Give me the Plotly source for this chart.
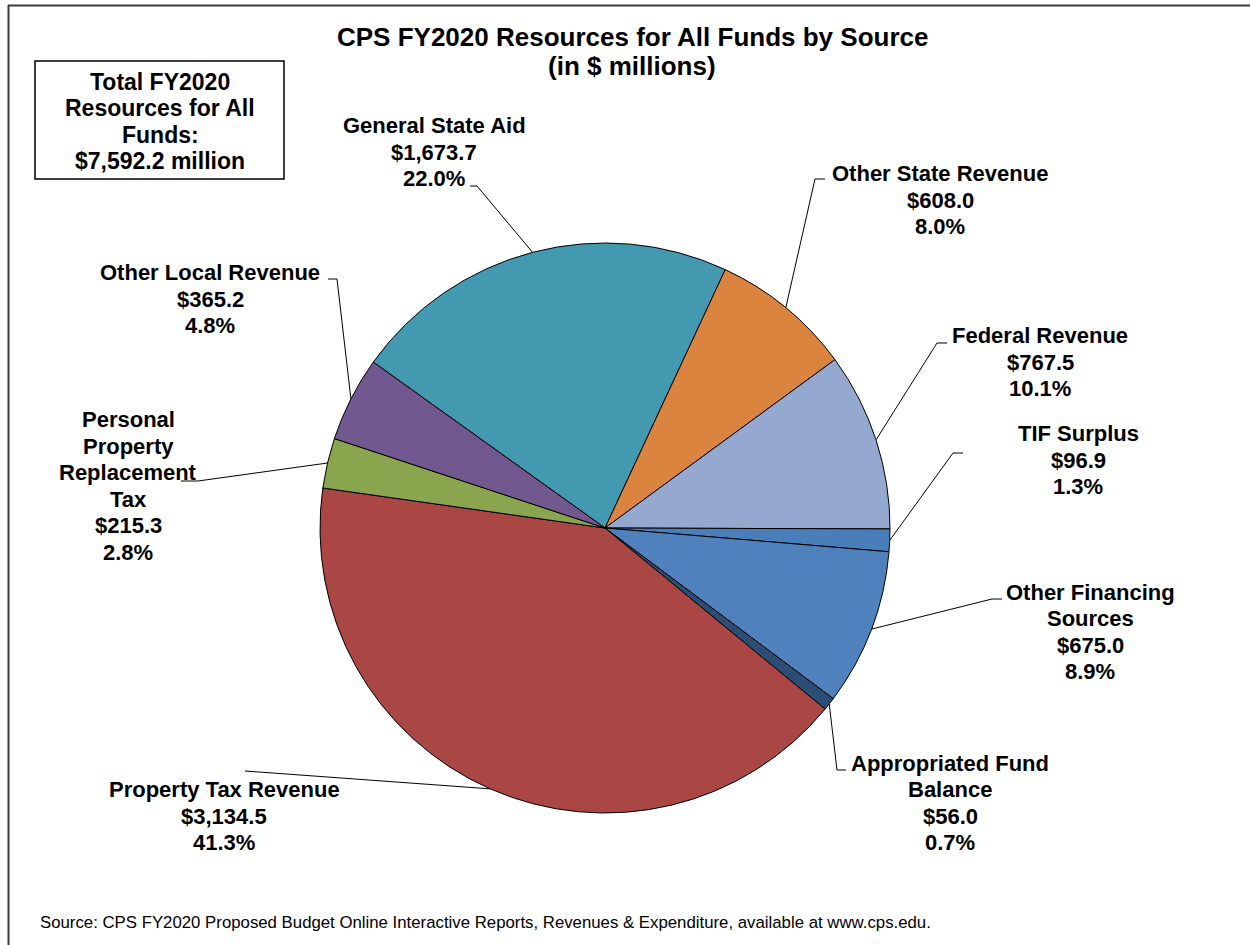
import math
import plotly.graph_objects as go

# ---------------- data ----------------
categories = ["General State Aid", "Other State Revenue", "Federal Revenue", "TIF Surplus",
              "Other Financing Sources", "Appropriated Fund Balance", "Property Tax Revenue",
              "Personal Property Replacement Tax", "Other Local Revenue"]
values = [1673.7, 608.0, 767.5, 96.9, 675.0, 56.0, 3134.5, 215.3, 365.2]
display_names = [["General State Aid"], ["Other State Revenue"], ["Federal Revenue"], ["TIF Surplus"],
                 ["Other Financing", "Sources"], ["Appropriated Fund", "Balance"], ["Property Tax Revenue"],
                 ["Personal", "Property", "Replacement", "Tax"], ["Other Local Revenue"]]
total_reported = 7592.2
title_lines = ["CPS FY2020 Resources for All Funds by Source", "(in $ millions)"]
box_lines = ["Total FY2020", "Resources for All", "Funds:", "$7,592.2 million"]
source_text = ("Source: CPS FY2020 Proposed Budget Online Interactive Reports, Revenues & Expenditure, "
               "available at www.cps.edu.")

# ---------------- style / layout ----------------
colors = ["#4399B0", "#DB843F", "#95A9D0", "#4A7EBB", "#4F81BD", "#2C4D75",
          "#AA4744", "#89A54E", "#71588F"]
W, H = 1250, 945
CX, CY, R = 605, 528, 285
ROTATION = -54.4
FONT = "Liberation Sans, Arial, sans-serif"
LABEL_SIZE = 22
LINE_GAP = 26.5

# label block centres (px) and leader-line elbows / ends (px)
label_pos = [(434, 152), (940, 200), (1040, 362), (1078, 460), (1090, 632),
             (950, 803), (224, 816), (128, 486), (210, 299)]
elbow_pos = [(477, 186), (815, 179), (937, 343), (953, 453), (992, 599),
             (837, 770), (252, 771), (198, 481), (337, 279)]
end_pos = [(470, 186), (825, 179), (947, 343), (963, 453), (1002, 599),
           (846, 770), (245, 771), (181, 481), (328, 279)]

fig = go.Figure()

fig.add_trace(go.Pie(
    labels=categories, values=values, sort=False, direction="clockwise",
    rotation=ROTATION, textinfo="none", showlegend=False,
    marker=dict(colors=colors, line=dict(color="black", width=1)),
    domain=dict(x=[(CX - R) / W, (CX + R) / W], y=[(H - CY - R) / H, (H - CY + R) / H]),
))


def add_block(lines, cx, cy, size, bold=True):
    n = len(lines)
    for k, t in enumerate(lines):
        y = cy + (k - (n - 1) / 2.0) * LINE_GAP
        fig.add_annotation(x=cx, y=y, xref="x", yref="y", showarrow=False,
                           text=f"<b>{t}</b>" if bold else t,
                           font=dict(family=FONT, size=size, color="black"),
                           xanchor="center", yanchor="middle")


# leader lines from slice mid-angle on the rim, and labels
tot = sum(values)
cum = 0.0
for i, v in enumerate(values):
    ang = math.radians(ROTATION + 360.0 * (cum + v / 2.0) / tot)
    cum += v
    ex, ey = CX + R * math.sin(ang), CY - R * math.cos(ang)
    fig.add_trace(go.Scatter(
        x=[ex, elbow_pos[i][0], end_pos[i][0]], y=[ey, elbow_pos[i][1], end_pos[i][1]],
        mode="lines", line=dict(color="black", width=1), hoverinfo="skip", showlegend=False))
    pct = 100.0 * v / total_reported
    add_block(display_names[i] + [f"${v:,.1f}", f"{pct:.1f}%"], label_pos[i][0], label_pos[i][1], LABEL_SIZE)

# title
fig.add_annotation(x=632, y=37, xref="x", yref="y", showarrow=False,
                   text=f"<b>{title_lines[0]}</b>", font=dict(family=FONT, size=26, color="black"),
                   xanchor="center", yanchor="middle")
fig.add_annotation(x=632, y=66, xref="x", yref="y", showarrow=False,
                   text=f"<b>{title_lines[1]}</b>", font=dict(family=FONT, size=26, color="black"),
                   xanchor="center", yanchor="middle")

# total box
fig.add_shape(type="rect", x0=35, y0=61, x1=284, y1=179, xref="x", yref="y",
              line=dict(color="black", width=1.5), fillcolor="white", layer="below")
add_block(box_lines, 160, 121.5, 23)

# source
fig.add_annotation(x=38, y=922, xref="x", yref="y", showarrow=False, text=source_text,
                   font=dict(family=FONT, size=16.8, color="black"),
                   xanchor="left", yanchor="middle")

# outer frame (top and left edges visible)
fig.add_shape(type="line", x0=8, y0=5.5, x1=W + 5, y1=5.5, xref="x", yref="y",
              line=dict(color="#3a3a3a", width=2))
fig.add_shape(type="line", x0=8.5, y0=5, x1=8.5, y1=H + 5, xref="x", yref="y",
              line=dict(color="#3a3a3a", width=2))

fig.update_layout(
    width=W, height=H, margin=dict(l=0, r=0, t=0, b=0),
    paper_bgcolor="white", plot_bgcolor="rgba(0,0,0,0)",
    xaxis=dict(range=[0, W], visible=False, fixedrange=True),
    yaxis=dict(range=[H, 0], visible=False, fixedrange=True),
    showlegend=False,
)

fig.write_html("out.html", config={"displayModeBar": False},
               post_script="document.body.style.margin='0';document.body.style.overflow='hidden';")
